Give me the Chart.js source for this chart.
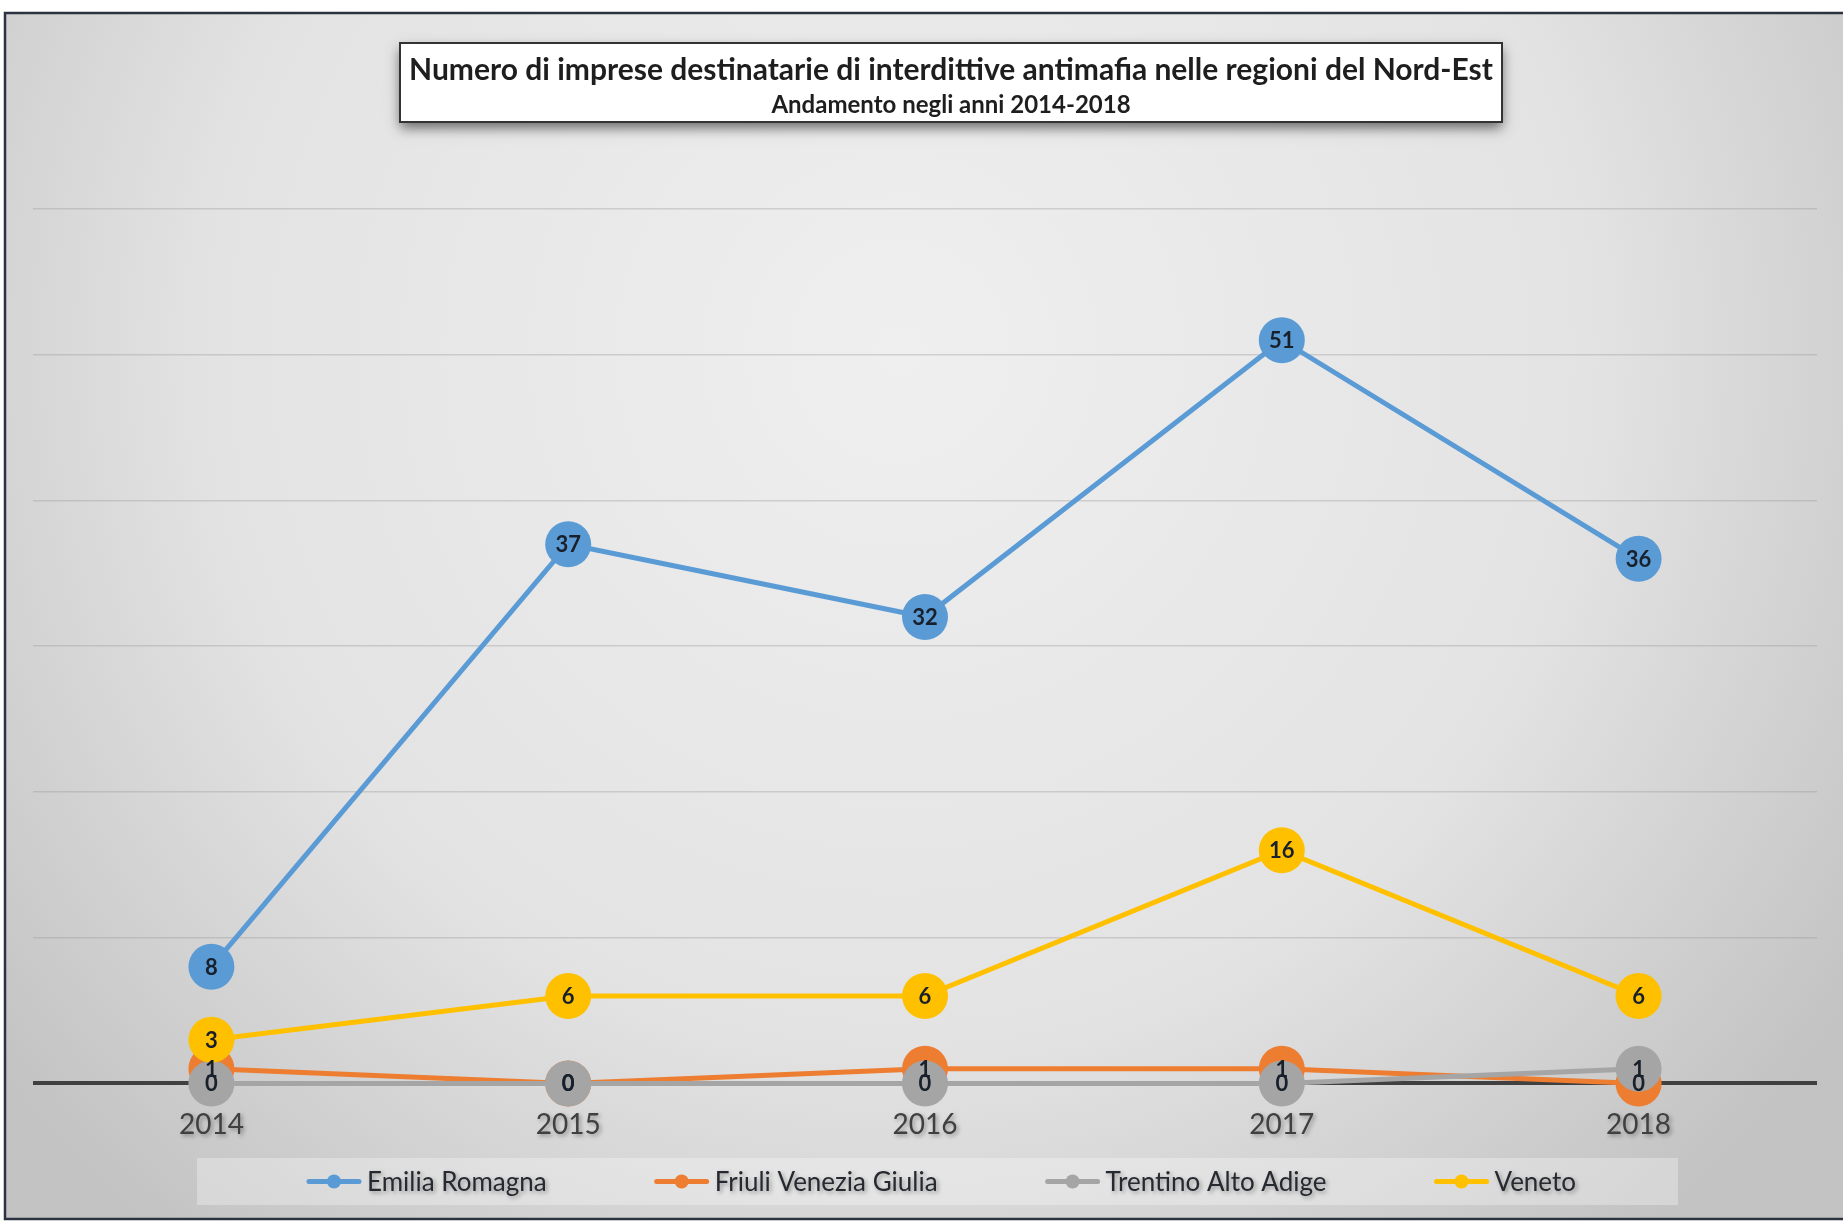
<!DOCTYPE html>
<html>
<head>
<meta charset="utf-8">
<title>Interdittive antimafia Nord-Est</title>
<script src="https://cdn.jsdelivr.net/npm/chart.js@4.4.1/dist/chart.umd.min.js"></script>
<style>
  html, body { margin: 0; padding: 0; background: #fff; }
  canvas { display: block; }
</style>
</head>
<body>
<canvas id="chart" width="1843" height="1224"></canvas>
<script>
const years = ["2014", "2015", "2016", "2017", "2018"];
const emiliaRomagna = [8, 37, 32, 51, 36];
const friuliVeneziaGiulia = [1, 0, 1, 1, 0];
const trentinoAltoAdige = [0, 0, 0, 0, 1];
const veneto = [3, 6, 6, 16, 6];
const yTicks = [0, 10, 20, 30, 40, 50, 60];

const titleText = "Numero di imprese destinatarie di interdittive antimafia nelle regioni del Nord-Est";
const subtitleText = "Andamento negli anni 2014-2018";

const FONT = "Lato, 'Open Sans', sans-serif";

// background, frame and the title box
const backgroundPlugin = {
    id: "background",
    beforeDraw(chart) {
        const ctx = chart.ctx;
        const w = chart.width, h = chart.height;
        ctx.save();
        ctx.fillStyle = "#ffffff";
        ctx.fillRect(0, 0, w, h);

        const g = ctx.createRadialGradient(900, 350, 0, 900, 350, 1150);
        g.addColorStop(0, "#efefef");
        g.addColorStop(0.6, "#e3e3e3");
        g.addColorStop(1, "#c3c3c3");
        ctx.fillStyle = g;
        ctx.fillRect(5, 13, w, 1206);

        ctx.strokeStyle = "#2b3340";
        ctx.lineWidth = 2.5;
        ctx.strokeRect(5, 13, w + 10, 1206);

        // title box
        ctx.save();
        ctx.shadowColor = "rgba(0,0,0,0.55)";
        ctx.shadowBlur = 12;
        ctx.shadowOffsetY = 6;
        ctx.fillStyle = "#ffffff";
        ctx.fillRect(400, 43, 1102, 79);
        ctx.restore();
        ctx.strokeStyle = "#333333";
        ctx.lineWidth = 2;
        ctx.strokeRect(400, 43, 1102, 79);

        ctx.fillStyle = "#1e1e1e";
        ctx.textAlign = "center";
        ctx.textBaseline = "middle";
        ctx.font = "bold 30px " + FONT;
        ctx.fillText(titleText, 951, 70);
        ctx.font = "bold 24px " + FONT;
        ctx.fillText(subtitleText, 951, 105);
        ctx.restore();
    },
    afterLayout(chart) {
        const s = chart.scales.x;
        if (s && !s._shadowed) {
            const orig = s.drawLabels.bind(s);
            s.drawLabels = function (area) {
                const c = chart.ctx;
                c.save();
                c.shadowColor = "rgba(0,0,0,0.35)";
                c.shadowBlur = 4;
                c.shadowOffsetX = 2;
                c.shadowOffsetY = 2;
                orig(area);
                c.restore();
            };
            s._shadowed = true;
        }
    }
};

// values written inside the markers
const valueLabelsPlugin = {
    id: "valueLabels",
    afterDatasetsDraw(chart) {
        const ctx = chart.ctx;
        const metas = chart.getSortedVisibleDatasetMetas().slice().reverse();
        ctx.save();
        ctx.font = "bold 22px " + FONT;
        ctx.fillStyle = "#18202b";
        ctx.textAlign = "center";
        ctx.textBaseline = "middle";
        metas.forEach((meta) => {
            const data = chart.data.datasets[meta.index].data;
            meta.data.forEach((pt, i) => {
                ctx.fillText(String(data[i]), pt.x, pt.y + 1);
            });
        });
        ctx.restore();
    }
};

// legend in a light box under the axis
const boxLegendPlugin = {
    id: "boxLegend",
    afterDraw(chart) {
        const ctx = chart.ctx;
        const box = { left: 197, top: 1158, width: 1481, height: 47 };
        const cy = box.top + box.height / 2;
        const symbolW = 54, textGap = 6, itemGap = 108;
        ctx.save();
        ctx.fillStyle = "rgba(255,255,255,0.3)";
        ctx.fillRect(box.left, box.top, box.width, box.height);

        ctx.font = "26px " + FONT;
        const items = chart.data.datasets.map((ds) => ({
            text: ds.label,
            color: ds.borderColor,
            tw: ctx.measureText(ds.label).width
        }));
        let total = 0;
        items.forEach((it) => { total += symbolW + textGap + it.tw; });
        total += itemGap * (items.length - 1);
        let x = box.left + box.width / 2 - total / 2 + 4;

        items.forEach((it) => {
            ctx.strokeStyle = it.color;
            ctx.lineWidth = 5;
            ctx.lineCap = "round";
            ctx.beginPath();
            ctx.moveTo(x + 2, cy);
            ctx.lineTo(x + symbolW - 2, cy);
            ctx.stroke();
            ctx.fillStyle = it.color;
            ctx.beginPath();
            ctx.arc(x + symbolW / 2, cy, 7, 0, Math.PI * 2);
            ctx.fill();

            ctx.save();
            ctx.shadowColor = "rgba(0,0,0,0.35)";
            ctx.shadowBlur = 4;
            ctx.shadowOffsetX = 2;
            ctx.shadowOffsetY = 2;
            ctx.fillStyle = "#262a30";
            ctx.textAlign = "left";
            ctx.textBaseline = "middle";
            ctx.fillText(it.text, x + symbolW + textGap, cy + 1);
            ctx.restore();
            x += symbolW + textGap + it.tw + itemGap;
        });
        ctx.restore();
    }
};

function lineSeries(label, data, color, order) {
    return {
        label: label,
        data: data,
        borderColor: color,
        backgroundColor: color,
        pointBackgroundColor: color,
        pointBorderColor: color,
        pointBorderWidth: 0,
        pointRadius: 23,
        pointHoverRadius: 23,
        borderWidth: 5,
        tension: 0,
        clip: false,
        order: order
    };
}

const ctx = document.getElementById("chart").getContext("2d");
new Chart(ctx, {
    type: "line",
    data: {
        labels: years,
        datasets: [
            lineSeries("Emilia Romagna", emiliaRomagna, "#5b9bd5", 0),
            lineSeries("Friuli Venezia Giulia", friuliVeneziaGiulia, "#ed7d31", 3),
            lineSeries("Trentino Alto Adige", trentinoAltoAdige, "#a5a5a5", 2),
            lineSeries("Veneto", veneto, "#ffc000", 1)
        ]
    },
    options: {
        responsive: false,
        animation: false,
        events: [],
        layout: {
            padding: { top: 209, left: 33, right: 26, bottom: 65 }
        },
        plugins: {
            legend: { display: false },
            title: { display: false },
            tooltip: { enabled: false }
        },
        scales: {
            x: {
                offset: true,
                grid: { display: false },
                border: { display: false },
                ticks: {
                    padding: 17,
                    color: "#404040",
                    font: { family: FONT, size: 28 }
                }
            },
            y: {
                min: yTicks[0],
                max: yTicks[yTicks.length - 1],
                ticks: { display: false, stepSize: yTicks[1] - yTicks[0] },
                border: { display: false },
                grid: {
                    drawTicks: false,
                    color: (c) => c.tick && c.tick.value === 0 ? "#404040" : "rgba(150,150,150,0.35)",
                    lineWidth: (c) => c.tick && c.tick.value === 0 ? 4 : 1.5
                }
            }
        }
    },
    plugins: [backgroundPlugin, valueLabelsPlugin, boxLegendPlugin]
});
</script>
</body>
</html>
